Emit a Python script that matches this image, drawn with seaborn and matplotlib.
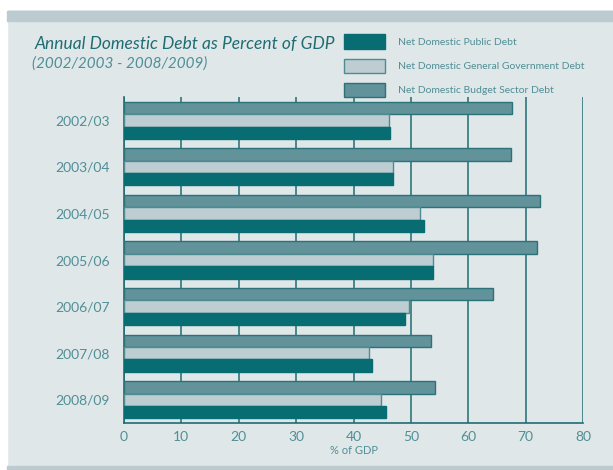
import seaborn as sns
import pandas as pd
import matplotlib.pyplot as plt
from matplotlib.patches import Patch, Rectangle

years = ['2002/03', '2003/04', '2004/05', '2005/06', '2006/07', '2007/08', '2008/09']
public_debt = [46.4, 46.8, 52.3, 53.9, 48.9, 43.3, 45.6]
general_gov_debt = [46.2, 46.8, 51.5, 53.8, 49.6, 42.7, 44.8]
budget_sector_debt = [67.6, 67.4, 72.5, 72.0, 64.3, 53.5, 54.2]

labels = ['Net Domestic Public Debt',
          'Net Domestic General Government Debt',
          'Net Domestic Budget Sector Debt']
colors = {
    labels[0]: '#086d72',
    labels[1]: '#bdcdd2',
    labels[2]: '#62929a',
}
edges = ['#2b7279', '#4f8c92', '#086d72']

bg = '#e0e7e9'
teal = '#1f6d73'
light_teal = '#4f8f95'

df = pd.DataFrame({'year': years,
                   labels[0]: public_debt,
                   labels[1]: general_gov_debt,
                   labels[2]: budget_sector_debt})
df = df.melt(id_vars=['year'], var_name='series', value_name='val')

sns.set_style('white')
plt.rcParams['font.family'] = ['Lato', 'DejaVu Sans']

fig = plt.figure(figsize=(6.13, 4.70), dpi=100, facecolor=bg)
# white margins and header/footer strips
fig.patches.append(Rectangle((0, 0.98), 1, 0.02, transform=fig.transFigure, color='white', zorder=-5))
fig.patches.append(Rectangle((0, 0), 0.011, 1, transform=fig.transFigure, color='white', zorder=-5))
fig.patches.append(Rectangle((0.011, 0.955), 0.989, 0.022, transform=fig.transFigure, color='#bccbcf', zorder=-4))
fig.patches.append(Rectangle((0.011, 0), 0.989, 0.008, transform=fig.transFigure, color='#bccbcf', zorder=-4))

ax = fig.add_axes([0.2023, 0.1, 0.7488, 0.6936])
ax.set_facecolor(bg)
hue_order = [labels[2], labels[1], labels[0]]
sns.barplot(data=df, y='year', x='val', hue='series', hue_order=hue_order,
            palette=colors, orient='h', width=0.8, linewidth=1, saturation=1,
            ax=ax, legend=False)
for i, cont in enumerate(ax.containers):
    for bar in cont:
        bar.set_edgecolor(edges[i])
        bar.set_zorder(3)

ax.set_xlim(0, 80)
ax.set_ylim(6.5, -0.5)
ax.set_xticks(range(0, 81, 10))
ax.grid(axis='x', color=teal, linewidth=1.1, zorder=0)
ax.set_axisbelow(True)
ax.set_yticks(range(len(years)))
ax.set_yticklabels(years)
ax.set_yticks([i - 0.5 for i in range(len(years) + 1)], minor=True)
ax.tick_params(axis='y', which='major', length=0, pad=10, labelsize=10, labelcolor=light_teal)
ax.tick_params(axis='y', which='minor', direction='in', length=7, width=1.5, color='#6fa0a5')
ax.tick_params(axis='x', length=0, pad=6, labelsize=10, labelcolor=light_teal)
ax.set_xlabel('% of GDP', fontsize=8, color=light_teal, labelpad=1)
ax.set_ylabel('')
for s in ['top', 'right']:
    ax.spines[s].set_visible(False)
for s in ['left', 'bottom']:
    ax.spines[s].set_color(teal)
    ax.spines[s].set_linewidth(1.2)

fig.text(0.057, 0.906, 'Annual Domestic Debt as Percent of GDP', fontsize=12.5,
         style='italic', color=teal, va='center', ha='left')
fig.text(0.052, 0.865, '(2002/2003 - 2008/2009)', fontsize=11,
         style='italic', color=light_teal, va='center', ha='left')

handles = [Patch(facecolor=colors[l], edgecolor=e, linewidth=1)
           for l, e in zip(labels, [edges[2], edges[1], edges[0]])]
leg = fig.legend(handles=handles, labels=labels, loc='upper left',
                 bbox_to_anchor=(0.561, 0.927), frameon=False, fontsize=7.5,
                 handlelength=3.9, handleheight=1.75, labelspacing=0.95,
                 handletextpad=1.3, borderpad=0, borderaxespad=0)
for t in leg.get_texts():
    t.set_color(light_teal)

plt.savefig('out.png', dpi=100, facecolor=bg)
